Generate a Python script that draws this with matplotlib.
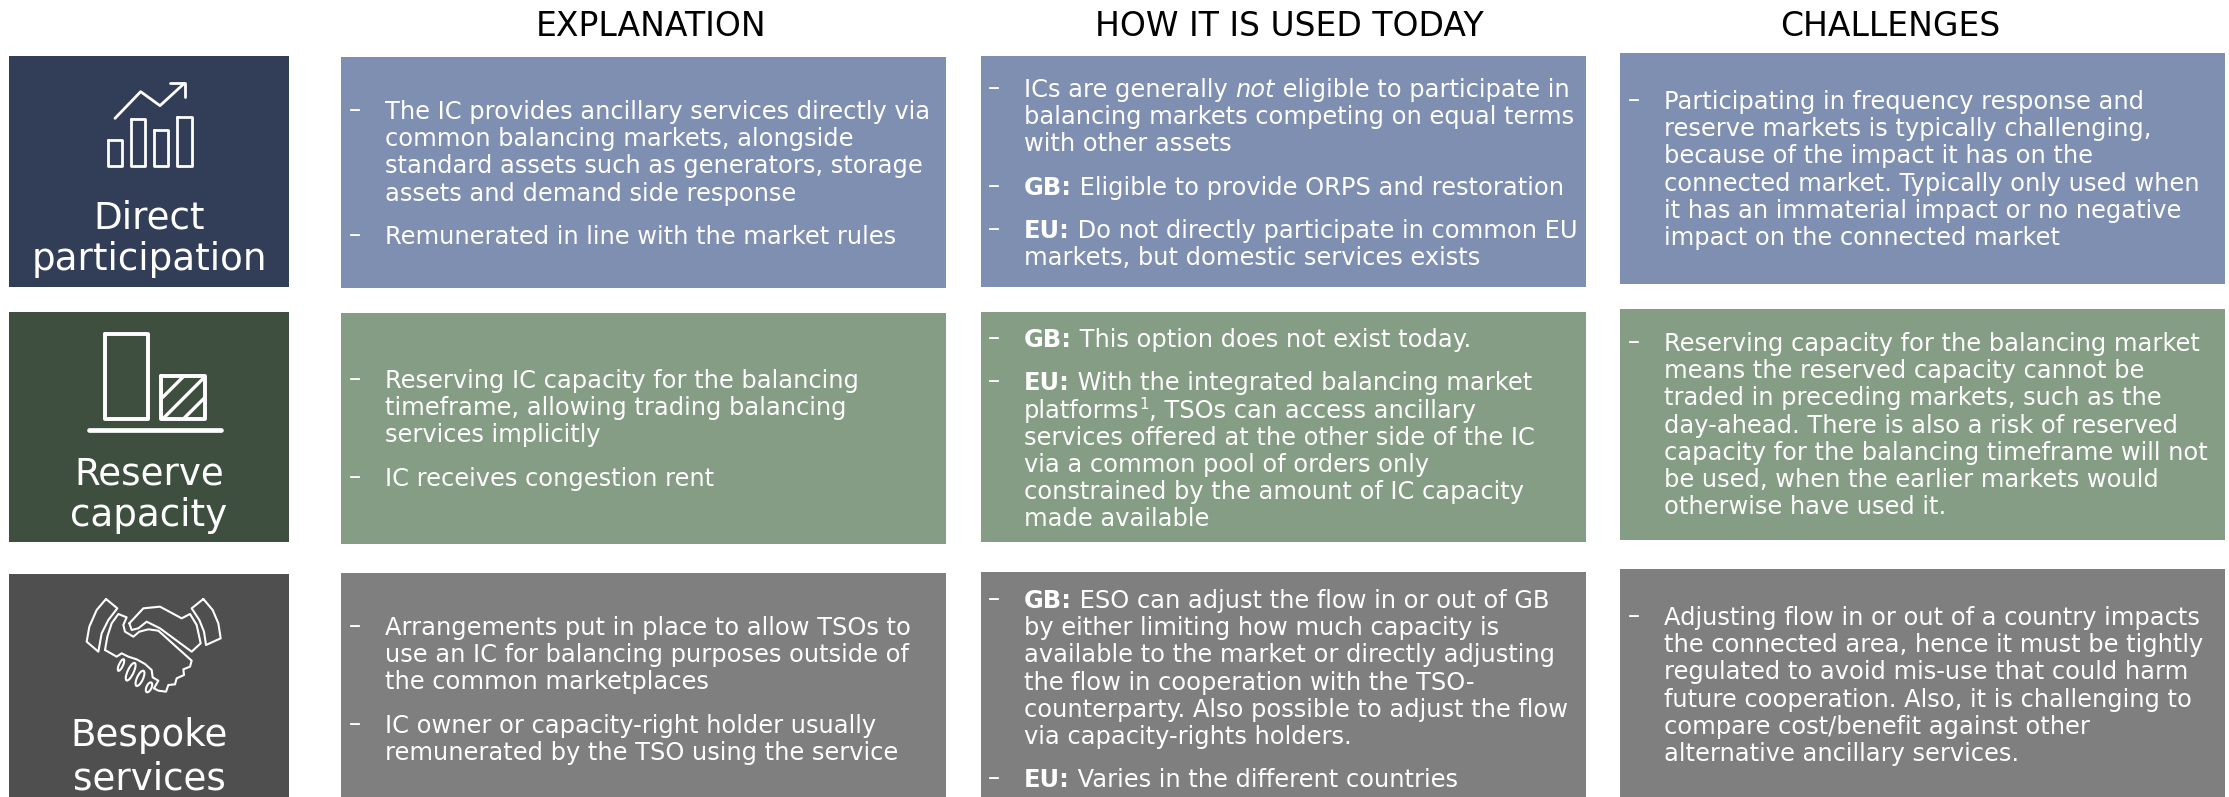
import re
import matplotlib
matplotlib.use("Agg")
import matplotlib.pyplot as plt
from matplotlib.patches import Rectangle, Ellipse

# -----------------------------
# Chart content
# -----------------------------

headers = ["EXPLANATION", "HOW IT IS USED TODAY", "CHALLENGES"]

row_labels = [
    ["Direct", "participation"],
    ["Reserve", "capacity"],
    ["Bespoke", "services"],
]

# **bold**, __italic__, ^^superscript^^ - each inner list is one bullet
row1_text = [
    [["The IC provides ancillary services directly via",
      "common balancing markets, alongside",
      "standard assets such as generators, storage",
      "assets and demand side response"],
     ["Remunerated in line with the market rules"]],
    [["ICs are generally __not__ eligible to participate in",
      "balancing markets competing on equal terms",
      "with other assets"],
     ["**GB:** Eligible to provide ORPS and restoration"],
     ["**EU:** Do not directly participate in common EU",
      "markets, but domestic services exists"]],
    [["Participating in frequency response and",
      "reserve markets is typically challenging,",
      "because of the impact it has on the",
      "connected market. Typically only used when",
      "it has an immaterial impact or no negative",
      "impact on the connected market"]],
]

row2_text = [
    [["Reserving IC capacity for the balancing",
      "timeframe, allowing trading balancing",
      "services implicitly"],
     ["IC receives congestion rent"]],
    [["**GB:** This option does not exist today."],
     ["**EU:** With the integrated balancing market",
      "platforms^^1^^, TSOs can access ancillary",
      "services offered at the other side of the IC",
      "via a common pool of orders only",
      "constrained by the amount of IC capacity",
      "made available"]],
    [["Reserving capacity for the balancing market",
      "means the reserved capacity cannot be",
      "traded in preceding markets, such as the",
      "day-ahead. There is also a risk of reserved",
      "capacity for the balancing timeframe will not",
      "be used, when the earlier markets would",
      "otherwise have used it."]],
]

row3_text = [
    [["Arrangements put in place to allow TSOs to",
      "use an IC for balancing purposes outside of",
      "the common marketplaces"],
     ["IC owner or capacity-right holder usually",
      "remunerated by the TSO using the service"]],
    [["**GB:** ESO can adjust the flow in or out of GB",
      "by either limiting how much capacity is",
      "available to the market or directly adjusting",
      "the flow in cooperation with the TSO-",
      "counterparty. Also possible to adjust the flow",
      "via capacity-rights holders."],
     ["**EU:** Varies in the different countries"]],
    [["Adjusting flow in or out of a country impacts",
      "the connected area, hence it must be tightly",
      "regulated to avoid mis-use that could harm",
      "future cooperation. Also, it is challenging to",
      "compare cost/benefit against other",
      "alternative ancillary services."]],
]

# -----------------------------
# Layout (pixels) and colours
# -----------------------------

W, H = 2229, 797

label_colors = ["#323E57", "#3F4F3F", "#4F4F4F"]
cell_colors = ["#7F8FB2", "#859D84", "#7F7F7F"]

label_tops = [56, 312, 574]
label_bottoms = [287, 542, 797]

col_lefts = [341, 981, 1620]
col_width = 605
text_lefts = [385, 1024, 1664]
dash_lefts = [349, 988, 1628]
header_centers = [651, 1289, 1890]

cell_tops = [[57, 56, 53], [313, 312, 309], [573, 572, 569]]
cell_bottoms = [[288, 287, 284], [544, 542, 540], [797, 797, 797]]
first_baselines = [[119, 97, 109], [388, 347, 351], [635, 608, 625]]

label_baselines = [[228, 270], [484, 526], [746, 789]]

FONT = "DejaVu Sans"
BODY_SIZE = 17.4
LINE_STEP = 27.2
PARA_GAP = 16.2

fig = plt.figure(figsize=(W / 100, H / 100), dpi=100)
ax = fig.add_axes([0, 0, 1, 1])
ax.set_xlim(0, W)
ax.set_ylim(H, 0)
ax.axis("off")
renderer = fig.canvas.get_renderer()


# -----------------------------
# Text helpers
# -----------------------------

def run_width(s, **kw):
    # the x's keep leading and trailing spaces in the measure
    t1 = ax.text(0, 0, "x" + s + "x", family=FONT, **kw)
    t2 = ax.text(0, 0, "xx", family=FONT, **kw)
    w = t1.get_window_extent(renderer).width - t2.get_window_extent(renderer).width
    t1.remove()
    t2.remove()
    return w


def draw_line(x, y, line):
    for part in re.split(r"(\*\*.+?\*\*|__.+?__|\^\^.+?\^\^)", line):
        if not part:
            continue
        kw = {"fontsize": BODY_SIZE}
        dy = 0
        if part.startswith("**"):
            part = part[2:-2]
            kw["fontweight"] = "bold"
        elif part.startswith("__"):
            part = part[2:-2]
            kw["fontstyle"] = "italic"
        elif part.startswith("^^"):
            part = part[2:-2]
            kw["fontsize"] = BODY_SIZE * 0.62
            dy = -9
        ax.text(x, y + dy, part, color="white", family=FONT, va="baseline", ha="left", **kw)
        x += run_width(part, **kw)


def draw_cell(col, baseline, bullets):
    y = baseline
    for bullet in bullets:
        ax.text(dash_lefts[col], y - 2, "–", color="white", family=FONT,
                fontsize=BODY_SIZE, va="baseline", ha="left")
        for line in bullet:
            draw_line(text_lefts[col], y, line)
            y += LINE_STEP
        y += PARA_GAP


# -----------------------------
# Icons
# -----------------------------

def poly(points, ox, oy, sx, lw):
    xs = [ox + p[0] / sx for p in points]
    ys = [oy + p[1] / sx for p in points]
    ax.plot(xs, ys, color="white", lw=lw, solid_joinstyle="round", solid_capstyle="round")


def box(x0, y0, x1, y1):
    return [(x0, y0), (x1, y0), (x1, y1), (x0, y1), (x0, y0)]


def chart_icon():
    ox, oy = 0, 40
    poly([(345, 235), (422, 155), (480, 197), (553, 130)], ox, oy, 3, 2.0)
    poly([(510, 128), (555, 128), (555, 172)], ox, oy, 3, 2.0)
    poly(box(325, 300, 365, 377), ox, oy, 3, 2.0)
    poly(box(393, 238, 435, 377), ox, oy, 3, 2.0)
    poly(box(463, 270, 505, 377), ox, oy, 3, 2.0)
    poly(box(532, 230, 575, 377), ox, oy, 3, 2.0)


def capacity_icon():
    ox, oy = 0, 300
    poly(box(314, 102, 444, 357), ox, oy, 3, 2.8)
    poly(box(484, 227, 616, 357), ox, oy, 3, 2.8)
    poly([(268, 391), (662, 391)], ox, oy, 3, 3.4)
    poly([(488, 292), (550, 230)], ox, oy, 3, 2.4)
    poly([(490, 355), (614, 231)], ox, oy, 3, 2.4)
    poly([(552, 355), (614, 293)], ox, oy, 3, 2.4)


def handshake_icon():
    ox, oy = 80, 590
    lw = 1.5
    poly([(78, 27), (112, 55), (85, 90), (65, 130), (55, 185), (20, 155), (28, 110), (50, 60), (78, 27)],
         ox, oy, 3, lw)
    poly([(370, 27), (335, 55), (358, 90), (372, 125), (378, 165), (422, 145), (415, 100), (398, 60), (370, 27)],
         ox, oy, 3, lw)
    poly([(148, 100), (190, 55), (240, 50), (305, 85), (330, 72), (350, 105), (362, 160), (335, 185),
          (240, 115), (200, 95), (175, 115), (155, 120), (148, 100)], ox, oy, 3, lw)
    poly([(75, 180), (82, 140), (95, 100), (115, 72), (140, 82), (130, 105), (135, 125), (160, 140),
          (178, 125), (205, 118), (235, 122), (335, 212), (330, 230), (310, 238), (312, 255), (290, 265),
          (285, 283), (265, 285), (258, 305), (235, 302), (222, 295)], ox, oy, 3, lw)
    poly([(75, 180), (110, 200), (125, 190), (145, 200), (170, 208), (195, 222), (215, 240), (218, 262),
          (235, 272), (222, 295)], ox, oy, 3, lw)
    for cx, cy, w, h in [(123, 225, 12, 38), (152, 245, 18, 58), (180, 265, 18, 50), (207, 292, 15, 32)]:
        ax.add_patch(Ellipse((ox + cx / 3, oy + cy / 3), w / 3, h / 3, angle=25,
                             fill=False, ec="white", lw=lw))


# -----------------------------
# Draw everything
# -----------------------------

for name, cx in zip(headers, header_centers):
    ax.text(cx, 36, name, color="black", family=FONT, fontsize=23.8, ha="center", va="baseline")

rows = [row1_text, row2_text, row3_text]

for r in range(3):
    ax.add_patch(Rectangle((9, label_tops[r]), 280, label_bottoms[r] - label_tops[r],
                           fc=label_colors[r], ec="none"))
    for word, y in zip(row_labels[r], label_baselines[r]):
        ax.text(149, y, word, color="white", family=FONT, fontsize=26.8, ha="center", va="baseline")

    for c in range(3):
        ax.add_patch(Rectangle((col_lefts[c], cell_tops[r][c]), col_width,
                               cell_bottoms[r][c] - cell_tops[r][c],
                               fc=cell_colors[r], ec="none"))
        draw_cell(c, first_baselines[r][c], rows[r][c])

chart_icon()
capacity_icon()
handshake_icon()

fig.savefig("out.png", dpi=100, facecolor="white")
